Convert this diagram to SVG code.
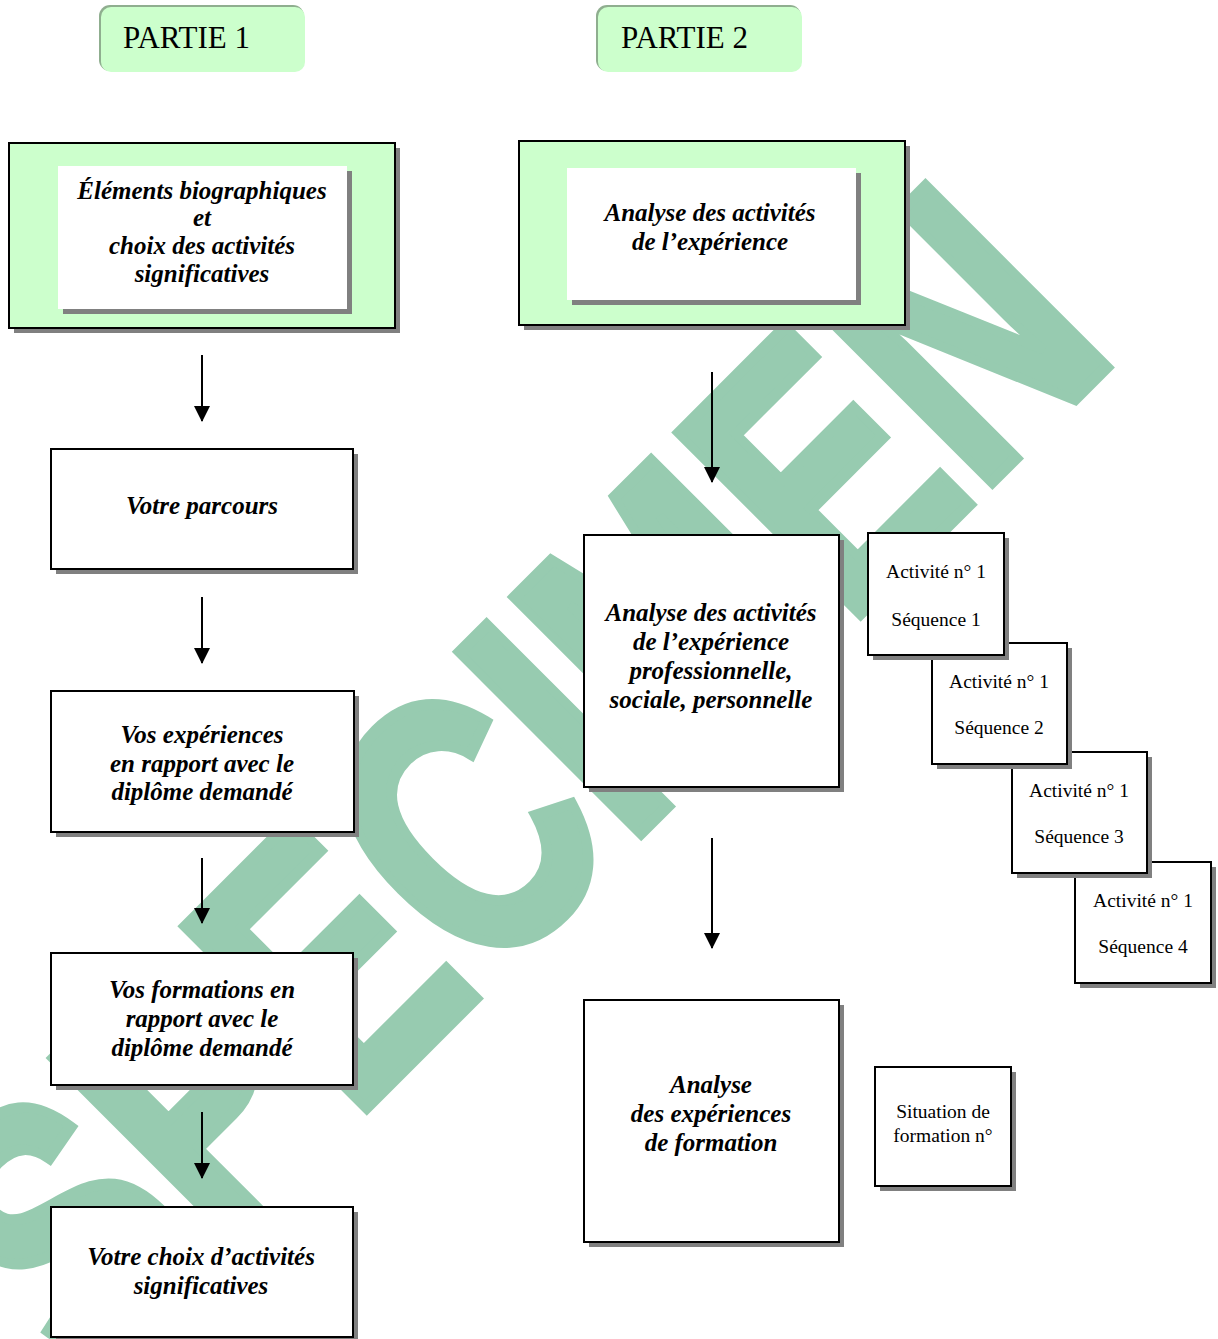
<svg xmlns="http://www.w3.org/2000/svg" width="1218" height="1339" viewBox="0 0 1218 1339">
<defs>
<style>
.wm{font-family:"Liberation Sans",Arial,sans-serif;font-weight:bold;fill:#97cbb0;stroke:#97cbb0;stroke-width:12;stroke-linejoin:miter}
.shadow{fill:#808080}
.box{fill:#ffffff;stroke:#000000;stroke-width:2}
.gbox{fill:#ccffcc;stroke:#000000;stroke-width:2}
.inner{fill:#ffffff}
.bi{font-family:"Liberation Serif","Times New Roman",serif;font-weight:bold;font-style:italic;font-size:25px;text-anchor:middle;fill:#000}
.rg{font-family:"Liberation Serif","Times New Roman",serif;font-size:19.5px;text-anchor:middle;fill:#000}
.tab{font-family:"Liberation Serif","Times New Roman",serif;font-size:31px;fill:#000}
.conn{stroke:#000;stroke-width:2;fill:none}
</style>
<marker id="arr" markerUnits="userSpaceOnUse" markerWidth="16" markerHeight="16" viewBox="0 0 16 16" refX="15" refY="8" orient="auto">
<path d="M0,0 L16,8 L0,16 z" fill="#000"/>
</marker>
</defs>
<rect width="1218" height="1339" fill="#ffffff"/>
<g id="watermark">
<text class="wm" x="0" y="0" font-size="372" transform="translate(89 1385) rotate(-45) scale(0.751 1)">SPECIMEN</text>
</g>
<g id="partie1">
<rect x="99" y="5" width="205" height="66" rx="11" fill="#8fae8f"/>
<rect x="101" y="7" width="204" height="65" rx="10" fill="#ccffcc"/>
<text class="tab" x="123" y="48">PARTIE 1</text>
</g>
<g id="partie2">
<rect x="596" y="5" width="205" height="66" rx="11" fill="#8fae8f"/>
<rect x="598" y="7" width="204" height="65" rx="10" fill="#ccffcc"/>
<text class="tab" x="621" y="48">PARTIE 2</text>
</g>
<g id="elements">
<rect class="shadow" x="14" y="148" width="386" height="185"/>
<rect class="gbox" x="9" y="143" width="386" height="185"/>
<rect class="shadow" x="63" y="171" width="289" height="143"/>
<rect class="inner" x="58" y="166" width="289" height="143"/>
<text class="bi" font-size="23" x="202" y="199">Éléments biographiques</text>
<text class="bi" font-size="23" x="202" y="226">et</text>
<text class="bi" font-size="23" x="202" y="254">choix des activités</text>
<text class="bi" font-size="23" x="202" y="282">significatives</text>
</g>
<g id="analyse-activites">
<rect class="shadow" x="524" y="146" width="386" height="184"/>
<rect class="gbox" x="519" y="141" width="386" height="184"/>
<rect class="shadow" x="572" y="173" width="289" height="132"/>
<rect class="inner" x="567" y="168" width="289" height="132"/>
<text class="bi" x="710" y="221">Analyse des activités</text>
<text class="bi" x="710" y="250">de l’expérience</text>
</g>
<g id="parcours">
<rect class="shadow" x="56" y="454" width="302" height="120"/>
<rect class="box" x="51" y="449" width="302" height="120"/>
<text class="bi" x="202" y="514">Votre parcours</text>
</g>
<g id="experiences">
<rect class="shadow" x="56" y="696" width="303" height="141"/>
<rect class="box" x="51" y="691" width="303" height="141"/>
<text class="bi" x="202" y="743">Vos expériences</text>
<text class="bi" x="202" y="772">en rapport avec le</text>
<text class="bi" x="202" y="800">diplôme demandé</text>
</g>
<g id="formations">
<rect class="shadow" x="56" y="958" width="302" height="132"/>
<rect class="box" x="51" y="953" width="302" height="132"/>
<text class="bi" x="202" y="998">Vos formations en</text>
<text class="bi" x="202" y="1027">rapport avec le</text>
<text class="bi" x="202" y="1056">diplôme demandé</text>
</g>
<g id="choix">
<rect class="shadow" x="56" y="1212" width="302" height="140"/>
<rect class="box" x="51" y="1207" width="302" height="130"/>
<text class="bi" x="201" y="1265">Votre choix d’activités</text>
<text class="bi" x="201" y="1294">significatives</text>
</g>
<g id="analyse-pro">
<rect class="shadow" x="589" y="540" width="255" height="252"/>
<rect class="box" x="584" y="535" width="255" height="252"/>
<text class="bi" x="711" y="621">Analyse des activités</text>
<text class="bi" x="711" y="650">de l’expérience</text>
<text class="bi" x="711" y="679">professionnelle,</text>
<text class="bi" x="711" y="708">sociale, personnelle</text>
</g>
<g id="sequence4">
<rect class="shadow" x="1080" y="867" width="136" height="121"/>
<rect class="box" x="1075" y="862" width="136" height="121"/>
<text class="rg" x="1143" y="907">Activité n° 1</text>
<text class="rg" x="1143" y="953">Séquence 4</text>
</g>
<g id="sequence3">
<rect class="shadow" x="1017" y="757" width="135" height="121"/>
<rect class="box" x="1012" y="752" width="135" height="121"/>
<text class="rg" x="1079" y="797">Activité n° 1</text>
<text class="rg" x="1079" y="843">Séquence 3</text>
</g>
<g id="sequence2">
<rect class="shadow" x="937" y="648" width="135" height="121"/>
<rect class="box" x="932" y="643" width="135" height="121"/>
<text class="rg" x="999" y="688">Activité n° 1</text>
<text class="rg" x="999" y="734">Séquence 2</text>
</g>
<g id="sequence1">
<rect class="shadow" x="873" y="538" width="136" height="122"/>
<rect class="box" x="868" y="533" width="136" height="122"/>
<text class="rg" x="936" y="578">Activité n° 1</text>
<text class="rg" x="936" y="626">Séquence 1</text>
</g>
<g id="analyse-formation">
<rect class="shadow" x="589" y="1005" width="255" height="242"/>
<rect class="box" x="584" y="1000" width="255" height="242"/>
<text class="bi" x="711" y="1093">Analyse</text>
<text class="bi" x="711" y="1122">des expériences</text>
<text class="bi" x="711" y="1151">de formation</text>
</g>
<g id="situation">
<rect class="shadow" x="880" y="1072" width="136" height="119"/>
<rect class="box" x="875" y="1067" width="136" height="119"/>
<text class="rg" x="943" y="1118">Situation de</text>
<text class="rg" x="943" y="1142">formation n°</text>
</g>
<g id="connectors">
<line class="conn" x1="202" y1="355" x2="202" y2="421" marker-end="url(#arr)"/>
<line class="conn" x1="202" y1="597" x2="202" y2="663" marker-end="url(#arr)"/>
<line class="conn" x1="202" y1="858" x2="202" y2="923" marker-end="url(#arr)"/>
<line class="conn" x1="202" y1="1112" x2="202" y2="1178" marker-end="url(#arr)"/>
<line class="conn" x1="712" y1="372" x2="712" y2="482" marker-end="url(#arr)"/>
<line class="conn" x1="712" y1="838" x2="712" y2="948" marker-end="url(#arr)"/>
</g>
</svg>
